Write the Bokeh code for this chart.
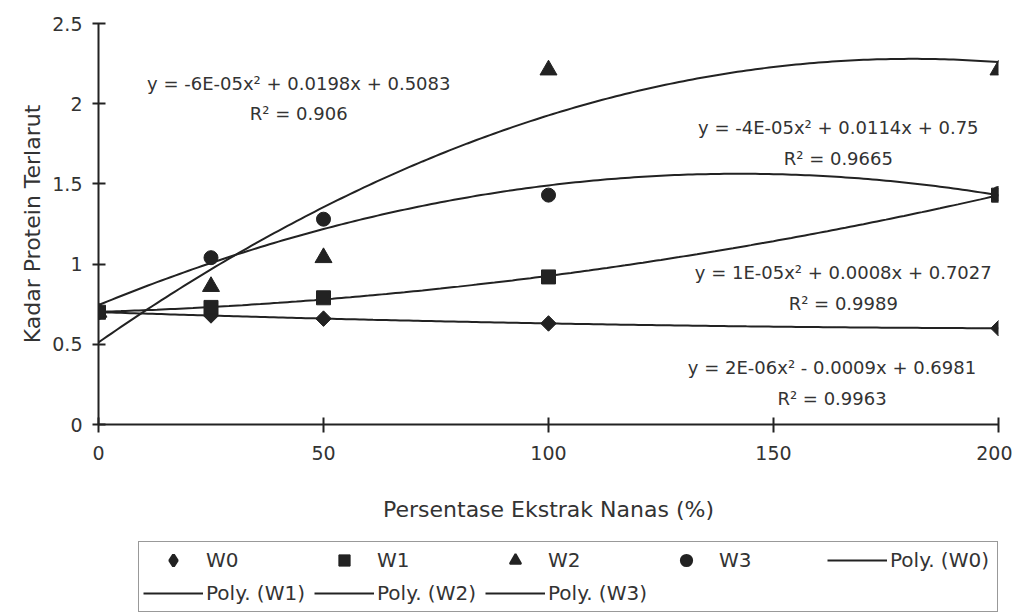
import numpy as np
from bokeh.plotting import figure
from bokeh.layouts import column
from bokeh.models import Range1d, FixedTicker, Legend, LegendItem, Label
from bokeh.embed import file_html
from bokeh.resources import INLINE

# ---------------- data ----------------
x_vals = [0, 25, 50, 100, 200]
w0 = [0.70, 0.68, 0.66, 0.63, 0.60]
w1 = [0.70, 0.73, 0.79, 0.92, 1.43]
w2 = [0.70, 0.86, 1.04, 2.21, 2.21]
w3 = [0.70, 1.04, 1.28, 1.43, 1.44]
series_names = ["W0", "W1", "W2", "W3"]
trend_names = ["Poly. (W0)", "Poly. (W1)", "Poly. (W2)", "Poly. (W3)"]
equations = [
    "y = 2E-06x² - 0.0009x + 0.6981",
    "y = 1E-05x² + 0.0008x + 0.7027",
    "y = -6E-05x² + 0.0198x + 0.5083",
    "y = -4E-05x² + 0.0114x + 0.75",
]
r2_texts = ["R² = 0.9963", "R² = 0.9989", "R² = 0.906", "R² = 0.9665"]
x_ticks = [0, 50, 100, 150, 200]
y_ticks = [0, 0.5, 1, 1.5, 2, 2.5]
y_tick_labels = ["0", "0.5", "1", "1.5", "2", "2.5"]
x_title = "Persentase Ekstrak Nanas (%)"
y_title = "Kadar Protein Terlarut"

FONT = "DejaVu Sans"
INK = "#222222"
TXT = "#333333"

# ---------------- main chart ----------------
p = figure(frame_width=900, frame_height=401, output_backend="svg", toolbar_location=None,
           x_range=Range1d(0, 200), y_range=Range1d(0, 2.5),
           min_border_left=98, min_border_right=14, min_border_top=23,
           min_border_bottom=110, background_fill_color="white",
           border_fill_color="white")
p.outline_line_color = None
p.grid.visible = False

p.xaxis.ticker = FixedTicker(ticks=x_ticks)
p.yaxis.ticker = FixedTicker(ticks=y_ticks)
p.yaxis.major_label_overrides = {t: l for t, l in zip(y_ticks, y_tick_labels)}
p.xaxis.major_label_overrides = {t: str(t) for t in x_ticks}
for ax in (p.xaxis[0], p.yaxis[0]):
    ax.axis_line_color = INK
    ax.axis_line_width = 2
    ax.major_tick_line_color = INK
    ax.major_tick_line_width = 2
    ax.minor_tick_line_color = None
    ax.major_label_text_font = FONT
    ax.major_label_text_font_size = "19px"
    ax.major_label_text_color = TXT
    ax.axis_label_text_font = FONT
    ax.axis_label_text_font_style = "normal"
    ax.axis_label_text_color = TXT
p.xaxis.major_tick_in = 7
p.xaxis.major_tick_out = 8
p.yaxis.major_tick_in = 7
p.yaxis.major_tick_out = 6
p.xaxis.major_label_standoff = 13
p.yaxis.major_label_standoff = 10
p.xaxis.axis_label = x_title
p.yaxis.axis_label = y_title
p.xaxis.axis_label_text_font_size = "22px"
p.yaxis.axis_label_text_font_size = "22px"
p.xaxis.axis_label_standoff = 34
p.yaxis.axis_label_standoff = 4

series = [w0, w1, w2, w3]
xs_fit = np.linspace(0, 200, 201)
for ys in series:
    coef = np.polyfit(x_vals, ys, 2)
    p.line(xs_fit, np.polyval(coef, xs_fit), line_color=INK, line_width=2)

p.scatter(x_vals, w0, marker="square", angle=np.pi / 4, size=11, fill_color=INK, line_color=INK)
p.scatter(x_vals, w1, marker="square", size=14, fill_color=INK, line_color=INK)
p.scatter(x_vals, w2, marker="triangle", size=17, fill_color=INK, line_color=INK)
p.scatter(x_vals, w3, marker="circle", size=14, fill_color=INK, line_color=INK)

eq_pos = [(163, 0.355, 0.162), (165.5, 0.948, 0.754), (44.5, 2.126, 1.939), (164.4, 1.852, 1.658)]
for (lx, ly1, ly2), eq, r2t in zip(eq_pos, equations, r2_texts):
    for ly, t in ((ly1, eq), (ly2, r2t)):
        p.add_layout(Label(x=lx, y=ly, text=t, text_align="center", text_baseline="middle",
                           text_font=FONT, text_font_size="18px", text_color=TXT))

# ---------------- legend strip below the chart ----------------
leg = figure(frame_width=900, frame_height=80, output_backend="svg", toolbar_location=None,
             x_range=Range1d(0, 1), y_range=Range1d(0, 1),
             x_axis_location=None, y_axis_location=None,
             min_border_left=98, min_border_right=14, min_border_top=0, min_border_bottom=0,
             background_fill_color="white", border_fill_color="white")
leg.outline_line_color = None
leg.grid.visible = False

NAN = [float("nan")]
k0 = leg.scatter(NAN, NAN, marker="diamond", fill_color=INK, line_color=INK, line_width=3)
k1 = leg.scatter(NAN, NAN, marker="square", fill_color=INK, line_color=INK)
k2 = leg.scatter(NAN, NAN, marker="triangle", fill_color=INK, line_color=INK, line_width=2)
k3 = leg.scatter(NAN, NAN, marker="circle", fill_color=INK, line_color=INK, line_width=2)
keys = [k0, k1, k2, k3]
key_lines = [leg.line(NAN, NAN, line_color=INK, line_width=2) for _ in trend_names]

items = [LegendItem(label=n, renderers=[r]) for n, r in zip(series_names, keys)]
items += [LegendItem(label=n, renderers=[r]) for n, r in zip(trend_names, key_lines)]
legend = Legend(items=items, orientation="horizontal", ncols=5,
                location=(40, 2), label_width=103, glyph_width=60,
                label_standoff=3, spacing=5, padding=4, margin=0,
                label_height=28, glyph_height=28,
                label_text_font=FONT, label_text_font_size="20px", label_text_color=TXT,
                border_line_color="#333333", border_line_width=1.5,
                background_fill_color="white", background_fill_alpha=1.0)
leg.add_layout(legend, "center")

layout = column(p, leg, spacing=0)
open("out.html", "w").write(file_html(layout, INLINE))
